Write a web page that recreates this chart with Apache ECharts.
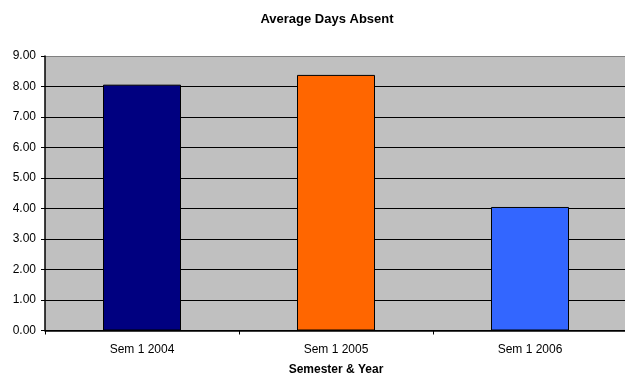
<!DOCTYPE html>
<html>
<head>
<meta charset="utf-8">
<script src="https://cdn.jsdelivr.net/npm/echarts@6/dist/echarts.min.js"></script>
<style>
  html, body { margin: 0; padding: 0; background: #fff; }
  #chart { width: 625px; height: 376px; }
</style>
</head>
<body>
<div id="chart"></div>
<script>
// Semesters on the category axis
const semesters = ['Sem 1 2004', 'Sem 1 2005', 'Sem 1 2006'];
// Average days absent per semester
const avgDaysAbsent = [8.06, 8.38, 4.05];
// One fill per bar
const barColors = ['#000080', '#FF6600', '#3366FF'];
// Value axis range
const yMin = 0, yMax = 9, yStep = 1;

const chart = echarts.init(document.getElementById('chart'));
const font = '"Liberation Sans", Arial, sans-serif';

chart.setOption({
  animation: false,
  title: {
    text: 'Average Days Absent',
    left: 322, top: 8, textAlign: 'center',
    textStyle: { fontFamily: font, fontSize: 13, fontWeight: 'bold', color: '#000' }
  },
  grid: {
    left: 45, top: 56, width: 582, height: 274.5,
    show: true, backgroundColor: '#C0C0C0', borderWidth: 0,
    containLabel: false,
    outerBoundsMode: 'none'
  },
  xAxis: {
    type: 'category',
    data: semesters,
    name: 'Semester & Year',
    nameLocation: 'middle',
    nameGap: 33,
    nameTextStyle: { fontFamily: font, fontSize: 12, fontWeight: 'bold', color: '#000', verticalAlign: 'top' },
    axisLine: { lineStyle: { color: '#000', width: 1.5 } },
    axisTick: { show: true, length: 4, lineStyle: { color: '#000' } },
    axisLabel: { fontFamily: font, fontSize: 12, color: '#000', margin: 13 }
  },
  yAxis: {
    type: 'value',
    min: yMin, max: yMax, interval: yStep,
    axisLine: { show: true, lineStyle: { color: '#000', width: 1.5 } },
    axisTick: { show: true, length: 4, lineStyle: { color: '#000' } },
    axisLabel: {
      fontFamily: font, fontSize: 12, color: '#000', margin: 9,
      formatter: v => v.toFixed(2)
    },
    splitLine: {
      show: true,
      lineStyle: {
        color: ['#000', '#000', '#000', '#000', '#000', '#000', '#000', '#000', '#000', '#808080'],
        width: 1.2
      }
    }
  },
  series: [{
    type: 'bar',
    barWidth: 78,
    data: avgDaysAbsent.map((v, i) => ({
      value: v,
      itemStyle: { color: barColors[i] }
    })),
    itemStyle: { borderColor: '#000', borderWidth: 1 }
  }]
});
</script>
</body>
</html>
